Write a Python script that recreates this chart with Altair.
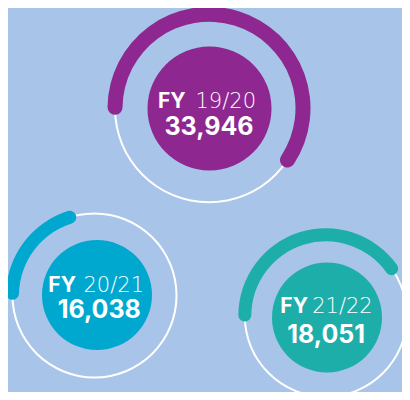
import math
import altair as alt
import pandas as pd

# ---- data ----
years = ["19/20", "20/21", "21/22"]
values = [33946, 16038, 18051]
arc_start = [-94, -93, -94]   # degrees, 0 = 12 o'clock, clockwise
arc_end = [128, -13, 59]

# ---- layout / style ----
colors = ["#8e278f", "#00a8cf", "#1eaeaa"]
ring_cx = [209, 94.5, 325.8]
ring_cy = [108.3, 295.5, 315.8]
ring_r = [94, 82, 81]
arc_w = [15, 13, 13]
disc_cx = [209.5, 97, 327]
disc_cy = [108.5, 295, 317.5]
disc_r = [62, 55, 55]
fy_left = [158, 48.3, 280.3]
yr_right = [256, 144, 372.7]
line1_base = [107.7, 292, 312.7]
num_cx = [209, 99.3, 326.2]
num_base = [135, 318.3, 343]

df = pd.DataFrame({
    "year": years, "value": values, "start": arc_start, "end": arc_end,
    "rcx": ring_cx, "rcy": ring_cy, "rr": ring_r, "aw": arc_w,
    "dcx": disc_cx, "dcy": disc_cy, "dr": disc_r,
    "fyx": fy_left, "yrx": yr_right, "l1y": line1_base,
    "nx": num_cx, "ny": num_base,
})

W, H = 394, 384
xs = alt.Scale(domain=[8, 8 + W], nice=False, zero=False)
ys = alt.Scale(domain=[8, 8 + H], nice=False, zero=False, reverse=True)
rs = alt.Scale(type="linear", domain=[0, 100], range=[0, 100], zero=True, nice=False)
ts = alt.Scale(type="linear", domain=[0, 360], range=[0, 2 * math.pi], zero=False, nice=False)
cs = alt.Scale(domain=years, range=colors)
FONT = "Inter"
YEAR_FONT = "DejaVu Sans"
TWO_PI = 6.2831853

base = alt.Chart(df)

ring = base.mark_arc(color="white", theta=0, theta2=TWO_PI).transform_calculate(
    ro="datum.rr + 1", ri="datum.rr - 1"
).encode(
    x=alt.X("rcx:Q", scale=xs, axis=None),
    y=alt.Y("rcy:Q", scale=ys, axis=None),
    radius=alt.Radius("ro:Q", scale=rs, stack=None),
    radius2="ri:Q",
)

arc = base.mark_arc(cornerRadius=8).transform_calculate(
    ro="datum.rr + datum.aw / 2", ri="datum.rr - datum.aw / 2"
).encode(
    x=alt.X("rcx:Q", scale=xs, axis=None),
    y=alt.Y("rcy:Q", scale=ys, axis=None),
    theta=alt.Theta("start:Q", scale=ts, stack=None),
    theta2="end:Q",
    radius=alt.Radius("ro:Q", scale=rs, stack=None),
    radius2="ri:Q",
    color=alt.Color("year:N", scale=cs, legend=None),
)

disc = base.mark_arc(theta=0, theta2=TWO_PI).encode(
    x=alt.X("dcx:Q", scale=xs, axis=None),
    y=alt.Y("dcy:Q", scale=ys, axis=None),
    radius=alt.Radius("dr:Q", scale=rs, stack=None),
    color=alt.Color("year:N", scale=cs, legend=None),
)

fy = base.mark_text(align="left", baseline="alphabetic", font=FONT, fontSize=21,
                    fontWeight=700, color="white").encode(
    x=alt.X("fyx:Q", scale=xs, axis=None),
    y=alt.Y("l1y:Q", scale=ys, axis=None),
    text=alt.value("FY"),
)

yr = base.mark_text(align="right", baseline="alphabetic", font=YEAR_FONT, fontSize=21,
                    fontWeight=300, color="white").encode(
    x=alt.X("yrx:Q", scale=xs, axis=None),
    y=alt.Y("l1y:Q", scale=ys, axis=None),
    text="year:N",
)

num = base.mark_text(align="center", baseline="alphabetic", font=FONT, fontSize=25,
                     fontWeight=700, color="white").encode(
    x=alt.X("nx:Q", scale=xs, axis=None),
    y=alt.Y("ny:Q", scale=ys, axis=None),
    text=alt.Text("value:Q", format=","),
)

chart = alt.layer(ring, arc, disc, fy, yr, num).properties(
    width=W, height=H, background="#a8c4e8", padding=0,
    autosize=alt.AutoSizeParams(type="none"),
).configure_view(stroke=None)

chart.save("out.html", embed_options={"renderer": "svg", "actions": False})
